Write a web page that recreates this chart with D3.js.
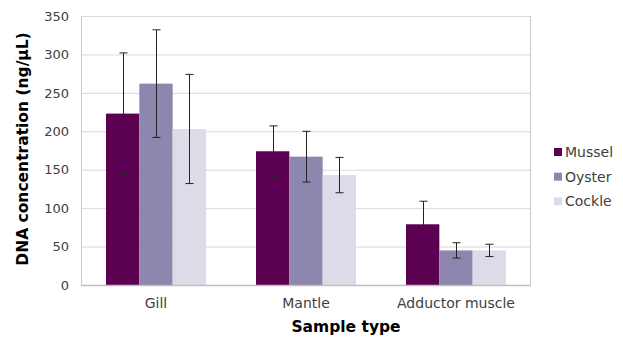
<!DOCTYPE html>
<html>
<head>
<meta charset="utf-8">
<script src="https://cdn.jsdelivr.net/npm/d3@7"></script>
<style>
  body { margin: 0; background: #fff; }
  text { font-family: "DejaVu Sans", "Noto Sans", sans-serif; }
</style>
</head>
<body>
<div id="chart"></div>
<script>
var sampleTypes = ["Gill", "Mantle", "Adductor muscle"];
var species = ["Mussel", "Oyster", "Cockle"];
var colors = ["#5c0052", "#8d86ae", "#dedbe8"];

// mean values per species, one entry per sample type
var mussel = [223, 174, 79];
var oyster = [262, 167, 45];
var cockle = [203, 143, 45];

// error bar half-widths
var musselErr = [79, 33, 30];
var oysterErr = [70, 33, 10];
var cockleErr = [71, 23, 8];

var yTicks = [0, 50, 100, 150, 200, 250, 300, 350];

var svgWidth = 623;
var svgHeight = 338;

var margin = { top: 16, right: 92, bottom: 53, left: 81 };
var width = svgWidth - margin.left - margin.right;
var height = svgHeight - margin.top - margin.bottom;

var svg = d3.select("#chart")
  .append("svg")
  .attr("width", svgWidth)
  .attr("height", svgHeight);

var chartGroup = svg.append("g")
  .attr("transform", `translate(${margin.left}, ${margin.top})`);

var seriesValues = [mussel, oyster, cockle];
var seriesErrors = [musselErr, oysterErr, cockleErr];

var data = [];
sampleTypes.forEach(function(t, i) {
  species.forEach(function(s, j) {
    data.push({ type: t, species: s, value: seriesValues[j][i], err: seriesErrors[j][i], idx: j });
  });
});

var x0 = d3.scaleBand()
  .domain(sampleTypes)
  .range([0, width])
  .paddingInner(1 / 3)
  .paddingOuter(1 / 6);

var x1 = d3.scaleBand()
  .domain(species)
  .range([0, x0.bandwidth()]);

var y = d3.scaleLinear()
  .domain([0, 350])
  .range([height, 0]);

// gridlines
chartGroup.append("g")
  .selectAll("line")
  .data(yTicks)
  .enter()
  .append("line")
  .attr("x1", 0)
  .attr("x2", width)
  .attr("y1", d => y(d) + 0.5)
  .attr("y2", d => y(d) + 0.5)
  .attr("stroke", "#d9d9d9")
  .attr("stroke-width", 1);

// plot area border (left and right)
chartGroup.append("line")
  .attr("x1", 0.5).attr("x2", 0.5)
  .attr("y1", 0).attr("y2", height)
  .attr("stroke", "#c8c8c8");
chartGroup.append("line")
  .attr("x1", width - 0.5).attr("x2", width - 0.5)
  .attr("y1", 0).attr("y2", height)
  .attr("stroke", "#c8c8c8");

// bars
chartGroup.append("g")
  .selectAll("rect")
  .data(data)
  .enter()
  .append("rect")
  .attr("x", d => x0(d.type) + x1(d.species))
  .attr("y", d => y(d.value))
  .attr("width", x1.bandwidth())
  .attr("height", d => height - y(d.value))
  .attr("fill", d => colors[d.idx]);

// error bars
var errGroup = chartGroup.append("g")
  .attr("stroke", "#222")
  .attr("stroke-width", 1);

data.forEach(function(d) {
  var cx = Math.round(x0(d.type) + x1(d.species) + x1.bandwidth() / 2) + 0.5;
  errGroup.append("line")
    .attr("x1", cx).attr("x2", cx)
    .attr("y1", y(d.value + d.err)).attr("y2", y(d.value - d.err));
  errGroup.append("line")
    .attr("x1", cx - 4).attr("x2", cx + 4)
    .attr("y1", y(d.value + d.err)).attr("y2", y(d.value + d.err));
  errGroup.append("line")
    .attr("x1", cx - 4).attr("x2", cx + 4)
    .attr("y1", y(d.value - d.err)).attr("y2", y(d.value - d.err));
});

// x axis line
chartGroup.append("line")
  .attr("x1", 0).attr("x2", width)
  .attr("y1", height + 0.5).attr("y2", height + 0.5)
  .attr("stroke", "#bfbfbf")
  .attr("stroke-width", 1.5);

// axes
var leftAxis = d3.axisLeft(y).tickValues(yTicks).tickSize(0).tickPadding(12);
var yAxis = chartGroup.append("g").call(leftAxis);
yAxis.select(".domain").remove();
yAxis.selectAll("text")
  .attr("fill", "#404040")
  .style("font-size", "13px");

var bottomAxis = d3.axisBottom(x0).tickSize(0).tickPadding(13);
var xAxis = chartGroup.append("g")
  .attr("transform", `translate(0, ${height})`)
  .call(bottomAxis);
xAxis.select(".domain").remove();
xAxis.selectAll("text")
  .attr("fill", "#404040")
  .style("font-size", "14px");

// axis titles
svg.append("text")
  .attr("x", 346)
  .attr("y", 332)
  .attr("text-anchor", "middle")
  .style("font-size", "15.5px")
  .style("font-weight", "bold")
  .attr("fill", "#000")
  .text("Sample type");

svg.append("text")
  .attr("transform", "translate(28, 149) rotate(-90)")
  .attr("text-anchor", "middle")
  .style("font-size", "15.5px")
  .style("font-weight", "bold")
  .attr("fill", "#000")
  .text("DNA concentration (ng/µL)");

// legend
var legend = svg.append("g")
  .attr("transform", "translate(554, 152)");

species.forEach(function(s, i) {
  var g = legend.append("g").attr("transform", `translate(0, ${i * 24.7})`);
  g.append("rect")
    .attr("x", 0).attr("y", -4)
    .attr("width", 8).attr("height", 8)
    .attr("fill", colors[i]);
  g.append("text")
    .attr("x", 11)
    .attr("y", 5)
    .style("font-size", "14px")
    .attr("fill", "#404040")
    .text(s);
});
</script>
</body>
</html>
